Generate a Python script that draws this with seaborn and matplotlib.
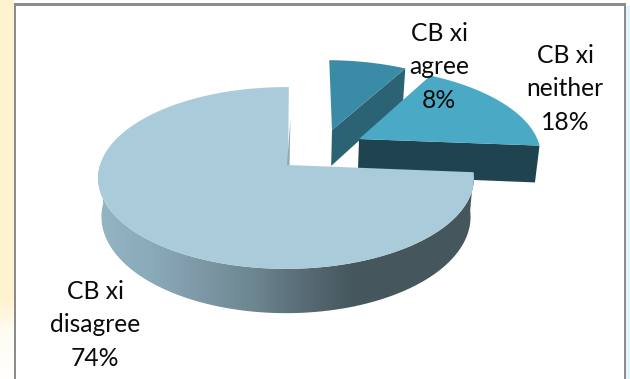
import numpy as np
import matplotlib
matplotlib.use("Agg")
import matplotlib.pyplot as plt
from matplotlib.path import Path
from matplotlib.patches import Polygon, Rectangle
import seaborn as sns

# ---- data ----
categories = ["CB xi agree", "CB xi neither", "CB xi disagree"]
percentages = [8, 18, 74]

# ---- styling ----
top_colors = ["#3a8ba6", "#4aa9c5", "#a9cbda"]
wall_colors = ["#2b6374", "#20444f", None]
explode_uv = [(0.262, 0.416), (0.410, 0.305), (0.0, 0.0)]
apex_uv = [(0, 0), (0, 0), (0.011, 0)]
label_xy = [(439, 67), (565, 89), (95, 325)]
wall_ramp = ["#93b5c4", "#8aabb9", "#7e98a6", "#6d8791", "#586c75", "#45565d"]

sns.set_theme(style="white")
plt.rcParams["font.family"] = ["Lato", "DejaVu Sans"]

fig = plt.figure(figsize=(6.30, 3.79), dpi=100)
ax = fig.add_axes([0, 0, 1, 1])

# perspective projection of the unit pie disc to the picture
AX, AY, A, B, K = 286.0, 165.0, 186.0, 89.0, 1 / 7
DEPTH, SHRINK = 38.0, 0.982


def top_xy(u, v):
    w = 1 + K * np.asarray(v)
    return np.column_stack([AX + A * np.asarray(u) / w, AY - B * np.asarray(v) / w])


def bottom_xy(u, v):
    p = top_xy(u, v)
    w = 1 + K * np.asarray(v)
    p[:, 0] = AX + (p[:, 0] - AX) * SHRINK
    p[:, 1] = p[:, 1] + DEPTH / w
    return p


wedges, _ = ax.pie(percentages, startangle=89, counterclock=False,
                   colors=top_colors, radius=1)
ax.set_aspect("auto")
ax.set_axis_off()

for i, (wedge, (du, dv), (au, av), wall) in enumerate(
        zip(wedges, explode_uv, apex_uv, wall_colors)):
    t = np.radians(np.linspace(wedge.theta1, wedge.theta2, 240))
    u = np.r_[au, np.cos(t)] + du
    v = np.r_[av, np.sin(t)] + dv
    # top face replaces the flat pie wedge path
    pts = top_xy(u, v)
    wedge._path = Path(np.vstack([pts, pts[0]]), closed=True)
    wedge.set_edgecolor("none")
    wedge.set_linewidth(0)
    wedge.set_zorder(2 + 2 * i + 1)

    if wall is not None:
        # side wall along the slice's clockwise straight edge
        edge_t = np.radians(wedge.theta1)
        eu = np.array([0, np.cos(edge_t)]) + du
        ev = np.array([0, np.sin(edge_t)]) + dv
        poly = np.vstack([top_xy(eu, ev), bottom_xy(eu, ev)[::-1]])
        ax.add_patch(Polygon(poly, closed=True, fc=wall, ec="none",
                             zorder=2 + 2 * i))
    else:
        # curved rim filled by a horizontal shading ramp
        rim = t[np.sin(t) <= 0]
        ru, rv = np.cos(rim), np.sin(rim)
        tp, bt = top_xy(ru, rv), bottom_xy(ru, rv)
        outline = np.vstack([tp, bt[::-1]])
        clip = Polygon(outline, closed=True, fc="none", ec="none",
                       transform=ax.transData)
        ax.add_patch(clip)
        ramp = np.array(sns.blend_palette(wall_ramp, 256))[None, :, :3]
        x0, x1 = tp[:, 0].min(), 355.0
        im = ax.imshow(ramp, extent=(x0, x1, 330, 150), aspect="auto",
                       zorder=2 + 2 * i)
        im.set_clip_path(clip)
        clip2 = Polygon(outline, closed=True, fc="none", ec="none",
                        transform=ax.transData)
        ax.add_patch(clip2)
        flat = np.array(sns.blend_palette([wall_ramp[-1], wall_ramp[-1]], 2))[None, :, :3]
        im2 = ax.imshow(flat, extent=(x1 - 1, 480, 330, 150), aspect="auto",
                        zorder=2 + 2 * i)
        im2.set_clip_path(clip2)
        # thin inner wall sliver next to the vertical cut
        ax.add_patch(Polygon([(290.5, 118), (287, 165), (289.5, 165)], closed=True,
                             fc="#8fa8b3", ec="none", zorder=7))

# labels
for name, pct, (x, y) in zip(categories, percentages, label_xy):
    head, last = name.rsplit(" ", 1)
    ax.text(x, y, f"{head}\n{last}\n{pct}%", ha="center", va="center",
            fontsize=17.7, color="#0a0a0a", linespacing=1.55, zorder=10)

# page furniture around the chart
grad = np.ones((120, 1, 4))
grad[..., :3] = matplotlib.colors.to_rgb("#fff3cf")
grad[:, 0, 3] = np.interp(np.linspace(0, 379, 120), [0, 300, 335, 379], [1, 1, 0.25, 0.05])
ax.imshow(grad, extent=(0, 14, 379, 0), aspect="auto", zorder=1)
ax.add_patch(Rectangle((14, 3), 2, 376, fc="#8c8c8c", ec="none", zorder=9))
ax.add_patch(Rectangle((14, 3), 612, 3, fc="#8c8c8c", ec="none", zorder=9))
ax.add_patch(Rectangle((624, 3), 2, 376, fc="#8c8c8c", ec="none", zorder=9))
ax.add_patch(Rectangle((626, 6), 4, 373, fc="#dff4ff", ec="none", zorder=1))
ax.set_xlim(0, 630)
ax.set_ylim(379, 0)

fig.savefig("out.png", dpi=100)
